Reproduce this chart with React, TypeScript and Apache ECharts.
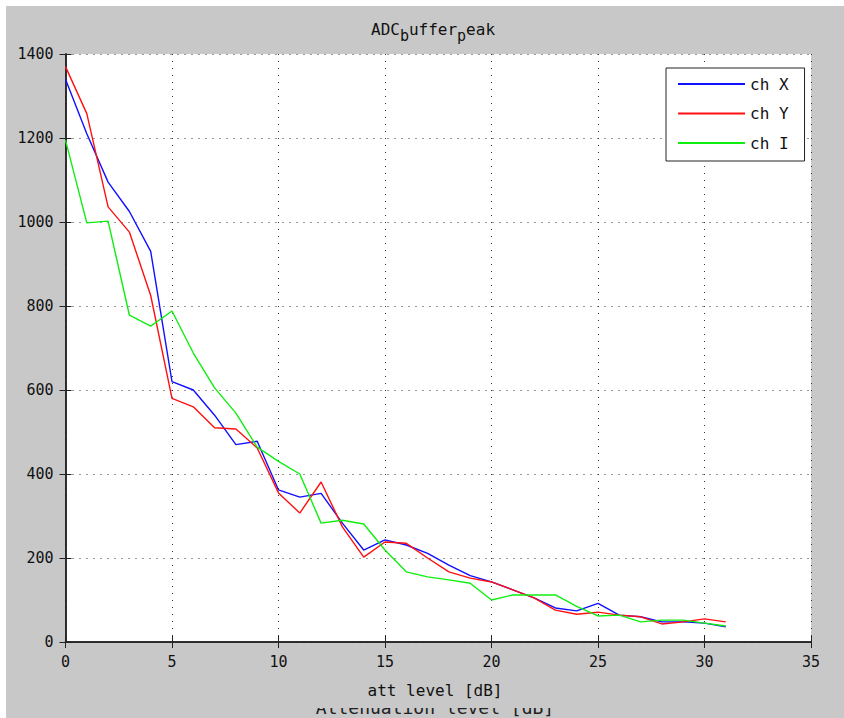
import React, { useEffect, useRef } from "react";
import * as echarts from "echarts";

const levels = [0, 1, 2, 3, 4, 5, 6, 7, 8, 9, 10, 11, 12, 13, 14, 15, 16, 17, 18, 19, 20, 21, 22, 23, 24, 25, 26, 27, 28, 29, 30, 31];
const chX = [1340, 1210, 1095, 1025, 930, 620, 600, 540, 470, 478, 362, 345, 354, 283, 219, 243, 231, 211, 183, 158, 143, 124, 105, 81, 74, 92, 64, 60, 48, 48, 45, 36];
const chY = [1370, 1258, 1036, 976, 825, 580, 560, 510, 507, 462, 355, 307, 381, 274, 202, 238, 235, 200, 167, 152, 143, 124, 105, 76, 66, 71, 64, 60, 43, 48, 55, 48];
const chI = [1195, 998, 1002, 778, 752, 788, 688, 605, 545, 464, 430, 400, 283, 290, 281, 219, 167, 155, 148, 140, 100, 112, 112, 112, 85, 62, 64, 48, 52, 52, 45, 38];
const seriesNames = ["ch X", "ch Y", "ch I"];
const seriesColors = ["#1010ff", "#ff1010", "#10ee10"];
const titleParts = [
  { text: "ADC", sub: false },
  { text: "b", sub: true },
  { text: "uffer", sub: false },
  { text: "p", sub: true },
  { text: "eak", sub: false },
];
const xTickMax = 35;
const yTickMax = 1400;

const FONT = "DejaVu Sans Mono";

export default function App() {
  const ref = useRef<HTMLDivElement>(null);
  useEffect(() => {
    if (!ref.current) return;
    const chart = echarts.init(ref.current, null, { renderer: "svg" });
    const pairs = (vals: number[]) => levels.map((x, i) => [x, vals[i]]);
    const axisLine = { show: true, lineStyle: { color: "#222", width: 1.5 } };
    const tick = { show: true, inside: true, length: 6, lineStyle: { color: "#222", width: 1 } };
    const grid = { show: true, lineStyle: { color: "#333", type: [1, 6] as any, width: 1 } };
    const lab = { fontFamily: FONT, fontSize: 15, color: "#111", formatter: (v: number) => String(v) };

    const mainSize = 16;
    const subSize = 15;
    let cx = 365;
    const titleEls: any[] = [];
    titleParts.forEach((p) => {
      const size = p.sub ? subSize : mainSize;
      titleEls.push({
        type: "text",
        x: cx,
        y: p.sub ? 30 : 23,
        style: { text: p.text, fontFamily: FONT, fontSize: size, fill: "#111", align: "left", verticalAlign: "middle" },
      });
      cx += p.text.length * size * 0.602;
    });

    chart.setOption({
      animation: false,
      backgroundColor: "#c8c8c8",
      grid: { left: 59.5, right: 33, top: 48, bottom: 76, show: true, backgroundColor: "#fff", borderWidth: 0 },
      legend: {
        orient: "vertical",
        left: 660,
        top: 62,
        data: seriesNames,
        backgroundColor: "#fff",
        borderColor: "#222",
        borderWidth: 1,
        borderRadius: 0,
        padding: [8, 16, 10, 11],
        itemWidth: 67,
        itemHeight: 14,
        itemGap: 13.5,
        itemStyle: { opacity: 0 },
        textStyle: { fontFamily: FONT, fontSize: 16, color: "#111", lineHeight: 14 },
      },
      xAxis: [
        {
          type: "value", min: 0, max: xTickMax, interval: 5, position: "bottom",
          axisLine, axisTick: tick, splitLine: grid,
          axisLabel: { ...lab, margin: 12 },
        },
        {
          type: "value", min: 0, max: xTickMax, interval: 5, position: "top",
          axisLine, axisTick: tick, splitLine: { show: false }, axisLabel: { show: false },
        },
      ],
      yAxis: [
        {
          type: "value", min: 0, max: yTickMax, interval: 200, position: "left",
          axisLine, axisTick: tick, splitLine: grid,
          axisLabel: { ...lab, margin: 12 },
        },
        {
          type: "value", min: 0, max: yTickMax, interval: 200, position: "right",
          axisLine, axisTick: tick, splitLine: { show: false }, axisLabel: { show: false },
        },
      ],
      graphic: [
        ...titleEls,
        {
          type: "text", x: 429, y: 701,
          style: { text: "Attenuation level [dB]", fontFamily: FONT, fontSize: 18, fill: "#222", align: "center", verticalAlign: "middle" },
        },
        { type: "rect", shape: { x: 280, y: 686, width: 300, height: 16 }, style: { fill: "#c8c8c8" } },
        {
          type: "text", x: 429, y: 684,
          style: { text: "att level [dB]", fontFamily: FONT, fontSize: 16, fill: "#111", align: "center", verticalAlign: "middle" },
        },
      ],
      series: [chX, chY, chI].map((vals, i) => ({
        name: seriesNames[i],
        type: "line",
        data: pairs(vals),
        symbol: "none",
        color: seriesColors[i],
        lineStyle: { width: 1.4, color: seriesColors[i] },
      })),
    });
    return () => chart.dispose();
  }, []);
  return (
    <div
      ref={ref}
      style={{ position: "absolute", left: 6, top: 6, width: 838, height: 712 }}
    />
  );
}
